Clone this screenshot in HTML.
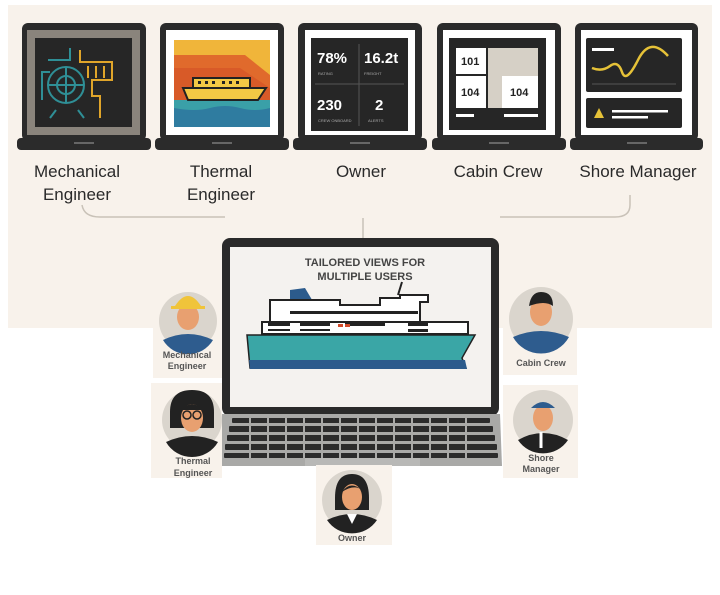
<!DOCTYPE html>
<html><head><meta charset="utf-8"><style>
html,body{margin:0;padding:0;background:#fff;}
svg{display:block;font-family:"Liberation Sans",sans-serif;}
</style></head><body>
<svg width="720" height="595" viewBox="0 0 720 595" xmlns="http://www.w3.org/2000/svg">
<rect x="0" y="0" width="720" height="595" fill="#fff"/>
<rect x="8" y="5" width="704" height="323" fill="#f8f2eb"/>

<!-- Laptop 1 -->
<rect x="22" y="23" width="124" height="118" rx="6" fill="#2b2b2b"/>
<rect x="17" y="138" width="134" height="12" rx="4" fill="#2b2b2b"/>
<rect x="74" y="142" width="20" height="2" fill="#666"/>
<rect x="27" y="30" width="113" height="105" fill="#8a847c"/>
<rect x="35" y="38" width="97" height="89" fill="#262626"/>
<g fill="none" stroke-width="2">
<circle cx="66" cy="85" r="18" stroke="#2f8f96"/>
<circle cx="66" cy="85" r="9" stroke="#2f8f96"/>
<path d="M48 60 H70 V48 M50 72 H42 V100 M56 110 L50 118 M78 110 L84 118 M66 67 V103 M48 85 H84" stroke="#2f8f96"/>
<path d="M80 50 V62 H112 V80 H92 V96 H100 V118 M88 66 V78 M96 66 V78 M104 66 V78" stroke="#e0a52a"/>
</g>
<!-- Laptop 2 -->
<rect x="160" y="23" width="124" height="118" rx="6" fill="#2b2b2b"/>
<rect x="155" y="138" width="134" height="12" rx="4" fill="#2b2b2b"/>
<rect x="212" y="142" width="20" height="2" fill="#666"/>
<rect x="166" y="30" width="112" height="105" fill="#fff"/>
<rect x="174" y="40" width="96" height="87" fill="#f0b53a"/>
<path d="M174 55 H245 L270 75 V100 H174 Z" fill="#e06a2c"/>
<path d="M174 68 H240 L270 88 V100 H174Z" fill="#d85a28"/>
<rect x="174" y="100" width="96" height="27" fill="#2f7ca0"/>
<path d="M174 100 H270 V108 Q255 112 240 108 T210 108 T174 108Z" fill="#3aa0a8"/>
<path d="M183 88 L188 100 H258 L266 88 Z M193 78 H250 V88 H193Z" fill="#f3c945" stroke="#222" stroke-width="2"/>
<g fill="#222"><rect x="198" y="81" width="3" height="3"/><rect x="205" y="81" width="3" height="3"/><rect x="212" y="81" width="3" height="3"/><rect x="222" y="81" width="3" height="3"/><rect x="229" y="81" width="3" height="3"/><rect x="236" y="81" width="3" height="3"/></g>
<!-- Laptop 3 -->
<rect x="298" y="23" width="124" height="118" rx="6" fill="#2b2b2b"/>
<rect x="293" y="138" width="134" height="12" rx="4" fill="#2b2b2b"/>
<rect x="350" y="142" width="20" height="2" fill="#666"/>
<rect x="305" y="30" width="110" height="105" fill="#fff"/>
<rect x="311" y="38" width="97" height="93" fill="#262626"/>
<path d="M359 44 V126 M315 84 H404" stroke="#555" stroke-width="1"/>
<g fill="#fff" font-weight="bold" font-size="15"><text x="317" y="63">78%</text><text x="364" y="63">16.2t</text><text x="317" y="110">230</text><text x="375" y="110">2</text></g>
<g fill="#aaa" font-size="4"><text x="318" y="75">RATING</text><text x="364" y="75">FREIGHT</text><text x="318" y="122">CREW ONBOARD</text><text x="368" y="122">ALERTS</text></g>
<!-- Laptop 4 -->
<rect x="437" y="23" width="124" height="118" rx="6" fill="#2b2b2b"/>
<rect x="432" y="138" width="134" height="12" rx="4" fill="#2b2b2b"/>
<rect x="489" y="142" width="20" height="2" fill="#666"/>
<rect x="443" y="30" width="112" height="105" fill="#fff"/>
<rect x="449" y="38" width="97" height="92" fill="#262626"/>
<rect x="456" y="48" width="30" height="26" fill="#fff"/>
<rect x="456" y="76" width="30" height="32" fill="#fff"/>
<rect x="488" y="48" width="50" height="60" fill="#d6d0c6"/>
<rect x="502" y="76" width="36" height="32" fill="#fff"/>
<g font-weight="bold" font-size="11" fill="#222"><text x="461" y="65">101</text><text x="461" y="96">104</text><text x="510" y="96">104</text></g>
<rect x="456" y="114" width="18" height="3" fill="#fff"/><rect x="504" y="114" width="34" height="3" fill="#fff"/>
<!-- Laptop 5 -->
<rect x="575" y="23" width="123" height="118" rx="6" fill="#2b2b2b"/>
<rect x="570" y="138" width="133" height="12" rx="4" fill="#2b2b2b"/>
<rect x="627" y="142" width="20" height="2" fill="#666"/>
<rect x="581" y="30" width="111" height="105" fill="#fff"/>
<rect x="586" y="38" width="96" height="54" rx="2" fill="#262626"/>
<rect x="586" y="98" width="96" height="30" rx="2" fill="#262626"/>
<rect x="592" y="48" width="22" height="3" fill="#fff"/>
<path d="M592 68 Q602 72 610 66 T622 72 T638 60 T668 56" fill="none" stroke="#e6c238" stroke-width="2.5"/>
<path d="M592 84 H676" stroke="#555"/>
<path d="M594 118 L599 108 L604 118Z" fill="#e6c238"/>
<rect x="612" y="110" width="56" height="2.5" fill="#fff"/><rect x="612" y="116" width="36" height="2.5" fill="#fff"/>

<!-- Labels -->
<g font-size="17" fill="#2a2a2a" text-anchor="middle">
<text x="77" y="177">Mechanical</text><text x="77" y="200">Engineer</text>
<text x="221" y="177">Thermal</text><text x="221" y="200">Engineer</text>
<text x="361" y="177">Owner</text>
<text x="498" y="177">Cabin Crew</text>
<text x="638" y="177">Shore Manager</text>
</g>
<!-- Connectors -->
<g fill="none" stroke="#c9c2b8" stroke-width="1.5">
<path d="M82 205 Q84 217 100 217 H225"/>
<path d="M630 195 V205 Q630 217 615 217 H500"/>
<path d="M363 218 V240"/>
</g>

<!-- Main laptop -->
<rect x="222" y="238" width="277" height="178" rx="8" fill="#2a2a2a"/>
<rect x="230" y="247" width="261" height="160" fill="#f4f2ef"/>
<path d="M222 414 H500 L502 466 H220 Z" fill="#a9a9a7"/>
<g fill="#2b2b2b">
<rect x="232" y="418" width="258" height="5" rx="1"/>
<rect x="229" y="426" width="264" height="6" rx="1"/>
<rect x="227" y="435" width="268" height="6" rx="1"/>
<rect x="225" y="444" width="272" height="6" rx="1"/>
<rect x="224" y="453" width="274" height="5" rx="1"/>
</g>
<g stroke="#a9a9a7" stroke-width="2">
<path d="M250 418 V458 M268 418 V458 M286 418 V458 M304 418 V458 M322 418 V458 M340 418 V458 M358 418 V458 M376 418 V458 M394 418 V458 M412 418 V458 M430 418 V458 M448 418 V458 M466 418 V458"/>
</g>
<rect x="305" y="458" width="115" height="8" fill="#b8b8b6"/>
<g font-size="11" font-weight="bold" fill="#444" text-anchor="middle"><text x="365" y="266">TAILORED VIEWS FOR</text><text x="365" y="280">MULTIPLE USERS</text></g>
<!-- ship -->
<path d="M290 290 L305 288 L318 310 H290Z" fill="#2c5b8c"/>
<path d="M270 322 V300 H340 V305 H380 V298 H400 V295 H428 V302 H420 V322Z" fill="#fff" stroke="#222" stroke-width="2"/>
<path d="M262 322 H468 V334 H262Z" fill="#fff" stroke="#222" stroke-width="2"/>
<path d="M398 295 L402 282" stroke="#222" stroke-width="2"/>
<path d="M247 335 H475 L462 358 L466 368 H250 Z" fill="#3aa6a6" stroke="#222" stroke-width="1.5"/>
<path d="M249 360 H465 L467 369 H250Z" fill="#2c5b8c"/>
<g fill="#222">
<rect x="290" y="311" width="128" height="3"/>
<rect x="268" y="323" width="22" height="3"/><rect x="300" y="323" width="30" height="3"/><rect x="345" y="323" width="40" height="3"/>
<rect x="268" y="329" width="22" height="2"/><rect x="300" y="329" width="30" height="2"/>
<rect x="408" y="323" width="20" height="3"/><rect x="408" y="329" width="20" height="3"/>
</g>
<rect x="338" y="324" width="5" height="3" fill="#d24a2a"/><rect x="345" y="324" width="5" height="3" fill="#d24a2a"/>

<!-- Avatar tiles -->
<g fill="#f8f2eb">
<rect x="153" y="285" width="69" height="93"/>
<rect x="151" y="383" width="71" height="95"/>
<rect x="503" y="283" width="74" height="92"/>
<rect x="503" y="385" width="75" height="93"/>
<rect x="316" y="465" width="76" height="80"/>
</g>
<!-- Mech -->
<circle cx="188" cy="321" r="29" fill="#dad5cd"/>
<path d="M163 340 Q188 328 213 340 A29 29 0 0 1 163 340Z" fill="#2e5c8e"/>
<ellipse cx="188" cy="317" rx="11" ry="13" fill="#e8a070"/>
<path d="M175 306 Q188 286 201 306 H205 V309 H171 V306Z" fill="#f0c43a"/>
<!-- Thermal -->
<circle cx="192" cy="420" r="30" fill="#dad5cd"/>
<path d="M170 412 Q170 390 192 390 Q214 390 214 412 V428 H170Z" fill="#222"/>
<path d="M166 442 Q192 430 218 442 A30 30 0 0 1 166 442Z" fill="#222"/>
<ellipse cx="192" cy="418" rx="11" ry="14" fill="#e8a070"/>
<path d="M181 410 Q192 398 203 410" fill="#222"/>
<g fill="none" stroke="#222" stroke-width="1.5"><circle cx="187" cy="415" r="4"/><circle cx="197" cy="415" r="4"/></g>
<!-- Cabin -->
<circle cx="541" cy="319" r="32" fill="#dad5cd"/>
<path d="M513 337 Q541 325 569 337 A32 32 0 0 1 513 337Z" fill="#2e5c8e"/>
<ellipse cx="541" cy="312" rx="11" ry="14" fill="#e8a070"/>
<path d="M529 306 Q531 292 541 292 Q553 292 553 306 Q545 300 529 306Z" fill="#222"/>
<!-- Shore -->
<circle cx="543" cy="420" r="30" fill="#dad5cd"/>
<path d="M518 440 Q543 426 568 440 A30 30 0 0 1 518 440Z" fill="#222"/>
<path d="M541 432 V448" stroke="#fff" stroke-width="3"/>
<ellipse cx="543" cy="418" rx="10" ry="13" fill="#e8a070"/>
<path d="M531 408 Q543 396 555 408 Z" fill="#2e5c8e"/>
<!-- Owner -->
<circle cx="352" cy="500" r="30" fill="#dad5cd"/>
<path d="M335 498 Q335 474 352 474 Q369 474 369 498 V510 H335Z" fill="#222"/>
<path d="M327 520 Q352 508 377 520 A30 30 0 0 1 327 520Z" fill="#222"/>
<path d="M347 514 L352 524 L357 514Z" fill="#fff"/>
<ellipse cx="352" cy="497" rx="10" ry="13" fill="#e8a070"/>
<path d="M342 492 Q350 480 362 490 Q354 484 342 492Z" fill="#222"/>

<g font-size="9" font-weight="bold" fill="#555" text-anchor="middle">
<text x="187" y="358">Mechanical</text><text x="187" y="369">Engineer</text>
<text x="193" y="464">Thermal</text><text x="193" y="476">Engineer</text>
<text x="541" y="366">Cabin Crew</text>
<text x="541" y="461">Shore</text><text x="541" y="472">Manager</text>
<text x="352" y="541">Owner</text>
</g>
</svg>
</body></html>
